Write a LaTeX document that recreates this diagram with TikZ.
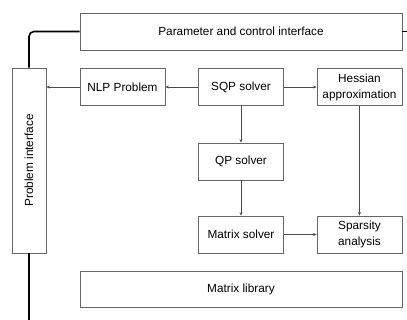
\documentclass[tikz,border=0pt]{standalone}
\usepackage{fontspec}
\setmainfont{Liberation Sans}
\usetikzlibrary{arrows.meta}
\begin{document}
\begin{tikzpicture}[x=1pt,y=-1pt,
  box/.style={draw=black!60, line width=0.8pt, fill=white, inner sep=0pt, font=\fontsize{11.8}{16}\selectfont, align=center},
  conn/.style={draw=black!70, line width=0.7pt, -{Stealth[length=3.5pt,width=3pt]}},
  bus/.style={draw=black, line width=1.6pt, rounded corners=5pt}]
\useasboundingbox (0,0) rectangle (407,320);
\node[box, minimum width=322pt, minimum height=37pt] (param) at (241,31.5) {Parameter and control interface};
\node[box, minimum width=34pt, minimum height=185pt] (prob) at (29,160.5) {};
\node[rotate=90, font=\fontsize{11.8}{16}\selectfont] (probtxt) at (29,160.5) {Problem interface};
\node[box, minimum width=85pt, minimum height=37pt] (nlp) at (122.5,87) {NLP Problem};
\node[box, minimum width=85pt, minimum height=37pt] (sqp) at (241,87) {SQP solver};
\node[box, minimum width=85pt, minimum height=37pt] (hess) at (359.5,87) {Hessian\\approximation};
\node[box, minimum width=85pt, minimum height=37pt] (qp) at (241,161.5) {QP solver};
\node[box, minimum width=85pt, minimum height=37pt] (msol) at (241,234.5) {Matrix solver};
\node[box, minimum width=85pt, minimum height=37pt] (spars) at (359.5,234.5) {Sparsity\\analysis};
\node[box, minimum width=322pt, minimum height=36pt] (mlib) at (241,289) {Matrix library};
\coordinate (rEnd) at (407,31.5);
\coordinate (bEnd) at (29,320);
\draw[bus] (prob.north) |- (param.west);
\draw[bus] (param.east) -- (rEnd);
\draw[bus] (prob.south) -- (bEnd);
\draw[conn] (sqp.west) -- (nlp.east);
\draw[conn] (nlp.west) -- (prob.east |- nlp.west);
\draw[conn] (sqp.east) -- (hess.west);
\draw[conn] (sqp.south) -- (qp.north);
\draw[conn] (qp.south) -- (msol.north);
\draw[conn] (msol.east) -- (spars.west);
\draw[conn] (hess.south) -- (spars.north);
\end{tikzpicture}
\end{document}
